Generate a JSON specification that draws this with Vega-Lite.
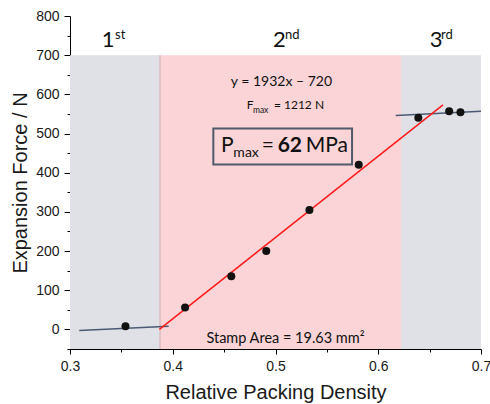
{
  "$schema": "https://vega.github.io/schema/vega-lite/v6.json",
  "width": 411,
  "height": 333,
  "autosize": {"type": "none"},
  "padding": {"left": 70, "top": 16, "right": 9, "bottom": 55},
  "background": "white",
  "config": {
    "view": {"stroke": null},
    "axis": {
      "domainColor": "#000", "domainWidth": 1, "tickColor": "#000", "tickWidth": 1,
      "labelFont": "Liberation Sans", "labelFontSize": 14, "labelColor": "#1a1a1a",
      "titleFont": "Liberation Sans", "titleFontSize": 20, "titleFontWeight": "normal", "titleColor": "#1a1a1a",
      "grid": false, "labelFlush": false, "labelOverlap": false, "labelBound": false
    }
  },
  "resolve": {"axis": {"x": "independent", "y": "independent"}},
  "layer": [
    {
      "layer": [
        {
          "data": {"values": [
            {"region": "1st", "x": 0.3, "x2": 0.3876, "y": -50, "y2": 700},
            {"region": "3rd", "x": 0.6222, "x2": 0.7, "y": -50, "y2": 700}
          ]},
          "mark": {"type": "rect", "color": "#dfe1e6"},
          "encoding": {
            "x": {"field": "x", "type": "quantitative",
              "scale": {"domain": [0.3, 0.7], "nice": false, "zero": false},
              "axis": {"title": "Relative Packing Density", "orient": "bottom",
                "values": [0.3, 0.4, 0.5, 0.6, 0.7], "format": ".1f",
                "tickSize": 5, "labelPadding": 5, "titlePadding": 9}},
            "x2": {"field": "x2"},
            "y": {"field": "y", "type": "quantitative",
              "scale": {"domain": [-50, 800], "nice": false, "zero": false},
              "axis": {"title": "Expansion Force / N", "orient": "left",
                "values": [0, 100, 200, 300, 400, 500, 600, 700, 800], "format": "d",
                "tickSize": 6, "labelPadding": 5, "titlePadding": 5}},
            "y2": {"field": "y2"}
          }
        },
        {
          "data": {"values": [
            {"region": "2nd", "x": 0.3876, "x2": 0.6222, "y": -50, "y2": 700}
          ]},
          "mark": {"type": "rect", "color": "#fad4d6"},
          "encoding": {
            "x": {"field": "x", "type": "quantitative"},
            "x2": {"field": "x2"},
            "y": {"field": "y", "type": "quantitative"},
            "y2": {"field": "y2"}
          }
        },
        {
          "data": {"values": [
            {"x": 0.3876, "y": -50, "y2": 700}
          ]},
          "mark": {"type": "rule", "color": "#dcbcc3", "strokeWidth": 1.5},
          "encoding": {
            "x": {"field": "x", "type": "quantitative"},
            "y": {"field": "y", "type": "quantitative"},
            "y2": {"field": "y2"}
          }
        },
        {
          "data": {"values": [
            {"seg": "low", "x": 0.309, "y": -3},
            {"seg": "low", "x": 0.396, "y": 8},
            {"seg": "high", "x": 0.617, "y": 546},
            {"seg": "high", "x": 0.7, "y": 557}
          ]},
          "mark": {"type": "line", "strokeWidth": 1.5, "color": "#4b5a72"},
          "encoding": {
            "x": {"field": "x", "type": "quantitative"},
            "y": {"field": "y", "type": "quantitative"},
            "detail": {"field": "seg"}
          }
        },
        {
          "data": {"values": [
            {"seg": "fit", "x": 0.387, "y": 0},
            {"seg": "fit", "x": 0.663, "y": 573}
          ]},
          "mark": {"type": "line", "strokeWidth": 1.5, "color": "#ff1a1a"},
          "encoding": {
            "x": {"field": "x", "type": "quantitative"},
            "y": {"field": "y", "type": "quantitative"}
          }
        },
        {
          "data": {"values": [
            {"x": 0.354, "y": 8},
            {"x": 0.412, "y": 56},
            {"x": 0.457, "y": 136},
            {"x": 0.491, "y": 200},
            {"x": 0.533, "y": 305},
            {"x": 0.581, "y": 420},
            {"x": 0.639, "y": 540},
            {"x": 0.669, "y": 557},
            {"x": 0.680, "y": 554}
          ]},
          "mark": {"type": "point", "filled": true, "size": 64, "color": "#111", "opacity": 1},
          "encoding": {
            "x": {"field": "x", "type": "quantitative"},
            "y": {"field": "y", "type": "quantitative"}
          }
        },
        {
          "data": {"values": [
            {"x": 0.4395, "x2": 0.5745, "y": 421, "y2": 513}
          ]},
          "mark": {"type": "rect", "fill": null, "fillOpacity": 0, "stroke": "#4f5b6b", "strokeWidth": 2},
          "encoding": {
            "x": {"field": "x", "type": "quantitative"},
            "x2": {"field": "x2"},
            "y": {"field": "y", "type": "quantitative"},
            "y2": {"field": "y2"}
          }
        },
        {
          "data": {"values": [
            {"t": "1", "x": 0.331, "y": 721},
            {"t": "2", "x": 0.4975, "y": 721},
            {"t": "3", "x": 0.650, "y": 721}
          ]},
          "mark": {"type": "text", "font": "Lato", "fontSize": 22, "align": "left", "baseline": "alphabetic", "color": "#111"},
          "encoding": {
            "x": {"field": "x", "type": "quantitative"},
            "y": {"field": "y", "type": "quantitative"},
            "text": {"field": "t"}
          }
        },
        {
          "data": {"values": [
            {"t": "st", "x": 0.3438, "y": 741},
            {"t": "nd", "x": 0.5092, "y": 741},
            {"t": "rd", "x": 0.6611, "y": 741}
          ]},
          "mark": {"type": "text", "font": "Lato", "fontSize": 13, "align": "left", "baseline": "alphabetic", "color": "#111"},
          "encoding": {
            "x": {"field": "x", "type": "quantitative"},
            "y": {"field": "y", "type": "quantitative"},
            "text": {"field": "t"}
          }
        },
        {
          "data": {"values": [
            {"t": "y = 1932x – 720", "x": 0.5058, "y": 621}
          ]},
          "mark": {"type": "text", "font": "Lato", "fontSize": 14, "align": "center", "baseline": "alphabetic", "color": "#111"},
          "encoding": {
            "x": {"field": "x", "type": "quantitative"},
            "y": {"field": "y", "type": "quantitative"},
            "text": {"field": "t"}
          }
        },
        {
          "data": {"values": [
            {"t": "F", "x": 0.472, "y": 562},
            {"t": "= 1212 N", "x": 0.4985, "y": 562}
          ]},
          "mark": {"type": "text", "font": "Lato", "fontSize": 12, "align": "left", "baseline": "alphabetic", "color": "#111"},
          "encoding": {
            "x": {"field": "x", "type": "quantitative"},
            "y": {"field": "y", "type": "quantitative"},
            "text": {"field": "t"}
          }
        },
        {
          "data": {"values": [
            {"t": "max", "x": 0.478, "y": 552}
          ]},
          "mark": {"type": "text", "font": "Lato", "fontSize": 8.5, "align": "left", "baseline": "alphabetic", "color": "#111"},
          "encoding": {
            "x": {"field": "x", "type": "quantitative"},
            "y": {"field": "y", "type": "quantitative"},
            "text": {"field": "t"}
          }
        },
        {
          "data": {"values": [
            {"t": "P", "x": 0.447, "y": 452},
            {"t": "=", "x": 0.4866, "y": 452},
            {"t": "MPa", "x": 0.5294, "y": 452}
          ]},
          "mark": {"type": "text", "font": "Lato", "fontSize": 21, "align": "left", "baseline": "alphabetic", "color": "#111"},
          "encoding": {
            "x": {"field": "x", "type": "quantitative"},
            "y": {"field": "y", "type": "quantitative"},
            "text": {"field": "t"}
          }
        },
        {
          "data": {"values": [
            {"t": "62", "x": 0.5021, "y": 452}
          ]},
          "mark": {"type": "text", "font": "Lato", "fontSize": 21, "fontWeight": "bold", "align": "left", "baseline": "alphabetic", "color": "#111"},
          "encoding": {
            "x": {"field": "x", "type": "quantitative"},
            "y": {"field": "y", "type": "quantitative"},
            "text": {"field": "t"}
          }
        },
        {
          "data": {"values": [
            {"t": "max", "x": 0.459, "y": 441}
          ]},
          "mark": {"type": "text", "font": "Lato", "fontSize": 14, "align": "left", "baseline": "alphabetic", "color": "#111"},
          "encoding": {
            "x": {"field": "x", "type": "quantitative"},
            "y": {"field": "y", "type": "quantitative"},
            "text": {"field": "t"}
          }
        },
        {
          "data": {"values": [
            {"t": "Stamp Area = 19.63 mm²", "x": 0.5097, "y": -34}
          ]},
          "mark": {"type": "text", "font": "Lato", "fontSize": 14.5, "align": "center", "baseline": "alphabetic", "color": "#111"},
          "encoding": {
            "x": {"field": "x", "type": "quantitative"},
            "y": {"field": "y", "type": "quantitative"},
            "text": {"field": "t"}
          }
        }
      ]
    },
    {
      "data": {"values": [{"x": 0.5, "y": 0}]},
      "mark": {"type": "point", "opacity": 0},
      "encoding": {
        "x": {"field": "x", "type": "quantitative",
          "axis": {"orient": "bottom", "title": null, "labels": false, "domain": false,
            "values": [0.35, 0.45, 0.55, 0.65], "tickSize": 3}},
        "y": {"field": "y", "type": "quantitative",
          "axis": {"orient": "left", "title": null, "labels": false, "domain": false,
            "values": [-50, 50, 150, 250, 350, 450, 550, 650, 750], "tickSize": 3}}
      }
    }
  ]
}
